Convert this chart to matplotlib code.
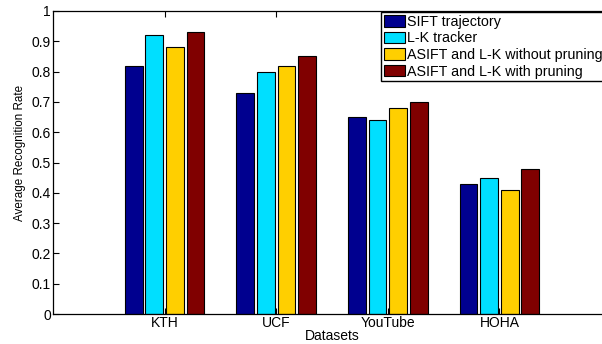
import numpy as np
import matplotlib
matplotlib.use('Agg')
import matplotlib.pyplot as plt

plt.rcParams['font.family'] = ['Liberation Sans', 'DejaVu Sans']

# Data
datasets = ['KTH', 'UCF', 'YouTube', 'HOHA']
methods = ['SIFT trajectory', 'L-K tracker',
           'ASIFT and L-K without pruning', 'ASIFT and L-K with pruning']
sift_traj = [0.82, 0.73, 0.65, 0.43]
lk_tracker = [0.92, 0.80, 0.64, 0.45]
asift_nopr = [0.88, 0.82, 0.68, 0.41]
asift_pr = [0.93, 0.85, 0.70, 0.48]
yticks = [0, 0.1, 0.2, 0.3, 0.4, 0.5, 0.6, 0.7, 0.8, 0.9, 1]
ytick_labels = ['0', '0.1', '0.2', '0.3', '0.4', '0.5', '0.6',
                '0.7', '0.8', '0.9', '1']

colors = ['#00008f', '#00dfff', '#ffcf00', '#800000']


def main():
    fig = plt.figure(figsize=(6.02, 3.44), dpi=100)
    ax = fig.add_axes([53 / 602, 30 / 344, 558 / 602, 303 / 344])

    x = np.arange(1, len(datasets) + 1)
    series = [sift_traj, lk_tracker, asift_nopr, asift_pr]
    step = 0.185
    offsets = (np.arange(4) - 1.5) * step
    for vals, off, col, lab in zip(series, offsets, colors, methods):
        ax.bar(x + off, vals, width=0.16, color=col, edgecolor='black',
               linewidth=0.8, label=lab)

    ax.set_xlim(0, 5)
    ax.set_ylim(0, 1)
    ax.set_xticks(x)
    ax.set_xticklabels(datasets, fontsize=10)
    ax.set_yticks(yticks)
    ax.set_yticklabels(ytick_labels, fontsize=10)
    ax.tick_params(direction='in', length=4, width=0.8, top=True,
                   right=False, pad=1.5)
    for s in ax.spines.values():
        s.set_linewidth(0.9)
    ax.spines['right'].set_visible(False)
    ax.set_xlabel('Datasets', fontsize=10, labelpad=-1)
    ax.set_ylabel('Average Recognition Rate', fontsize=8.4)
    ax.yaxis.set_label_coords(-0.049, 0.53)

    fig.legend(loc='upper left', bbox_to_anchor=(381 / 602, 1 - 12 / 344),
               fontsize=10.3, frameon=True, fancybox=False, edgecolor='black',
               framealpha=1, borderpad=0.2, labelspacing=0.18,
               handlelength=1.5, handleheight=0.85, handletextpad=0.15,
               borderaxespad=0)

    fig.savefig('out.png', dpi=100)


if __name__ == '__main__':
    main()
